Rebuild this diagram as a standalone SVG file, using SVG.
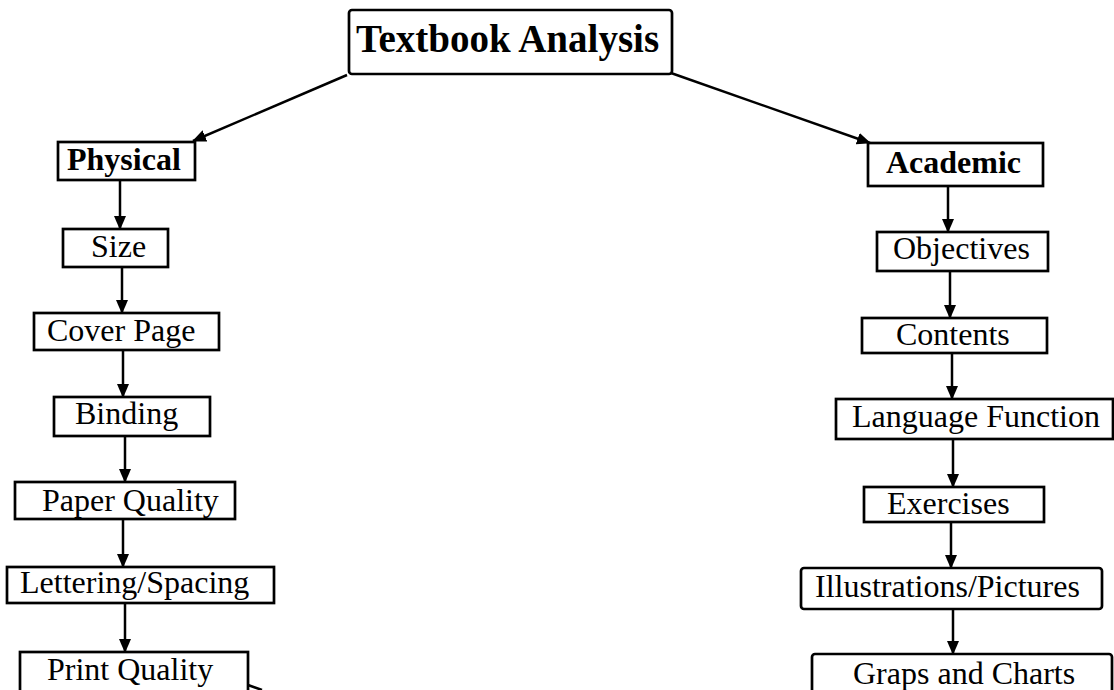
<svg xmlns="http://www.w3.org/2000/svg" width="1114" height="690" viewBox="0 0 1114 690">
<defs>
<marker id="ah" markerWidth="14" markerHeight="12" refX="13" refY="6" orient="auto" markerUnits="userSpaceOnUse">
<path d="M0,0 L14,6 L0,12 Z" fill="#000"/>
</marker>
<style>
.box{fill:#fff;stroke:#000;stroke-width:2.7}
.t{font-family:"Liberation Serif","Times New Roman",serif;font-size:32px;fill:#000}
.b{font-weight:bold}
.c{stroke:#000;stroke-width:2.5;fill:none}
.ca{stroke:#000;stroke-width:2.5;fill:none;marker-end:url(#ah)}
</style>
</defs>
<rect width="1114" height="690" fill="#fff"/>
<g id="connectors">
<line class="ca" x1="347" y1="75" x2="193" y2="141"/>
<line class="ca" x1="671" y1="73" x2="870" y2="143"/>
<line class="ca" x1="120" y1="180" x2="120" y2="229"/>
<line class="ca" x1="122" y1="267" x2="122" y2="313"/>
<line class="ca" x1="123" y1="350" x2="123" y2="397"/>
<line class="ca" x1="125" y1="436" x2="125" y2="482"/>
<line class="ca" x1="123" y1="519" x2="123" y2="567"/>
<line class="ca" x1="125" y1="603" x2="125" y2="652"/>
<line class="c" x1="248" y1="685" x2="262" y2="690"/>
<line class="ca" x1="948" y1="186" x2="948" y2="232"/>
<line class="ca" x1="950" y1="271" x2="950" y2="318"/>
<line class="ca" x1="952" y1="353" x2="952" y2="399"/>
<line class="ca" x1="953" y1="439" x2="953" y2="487"/>
<line class="ca" x1="951" y1="522" x2="951" y2="568"/>
<line class="ca" x1="953" y1="609" x2="953" y2="654"/>
</g>
<g id="textbook-analysis">
<rect class="box" x="349" y="10" width="323" height="64" rx="3"/>
<text class="t b" x="356" y="52" style="font-size:39px">Textbook Analysis</text>
</g>
<g id="physical">
<rect class="box" x="58" y="142" width="137" height="38"/>
<text class="t b" x="67" y="170">Physical</text>
</g>
<g id="size">
<rect class="box" x="63" y="229" width="105" height="38"/>
<text class="t" x="91" y="257">Size</text>
</g>
<g id="cover-page">
<rect class="box" x="34" y="313" width="185" height="37"/>
<text class="t" x="47" y="341">Cover Page</text>
</g>
<g id="binding">
<rect class="box" x="54" y="397" width="156" height="39"/>
<text class="t" x="75" y="424">Binding</text>
</g>
<g id="paper-quality">
<rect class="box" x="15" y="482" width="220" height="37"/>
<text class="t" x="42" y="511">Paper Quality</text>
</g>
<g id="lettering-spacing">
<rect class="box" x="7" y="567" width="267" height="36"/>
<text class="t" x="20" y="593">Lettering/Spacing</text>
</g>
<g id="print-quality">
<rect class="box" x="20" y="652" width="228" height="50"/>
<text class="t" x="47" y="680">Print Quality</text>
</g>
<g id="academic">
<rect class="box" x="868" y="143" width="175" height="43"/>
<text class="t b" x="886" y="173">Academic</text>
</g>
<g id="objectives">
<rect class="box" x="877" y="232" width="171" height="39"/>
<text class="t" x="893" y="259">Objectives</text>
</g>
<g id="contents">
<rect class="box" x="862" y="318" width="185" height="35"/>
<text class="t" x="896" y="345">Contents</text>
</g>
<g id="language-function">
<rect class="box" x="836" y="399" width="277" height="40"/>
<text class="t" x="852" y="427">Language Function</text>
</g>
<g id="exercises">
<rect class="box" x="864" y="487" width="180" height="35"/>
<text class="t" x="887" y="514">Exercises</text>
</g>
<g id="illustrations-pictures">
<rect class="box" x="801" y="568" width="301" height="41" rx="3"/>
<text class="t" x="815" y="597">Illustrations/Pictures</text>
</g>
<g id="graps-and-charts">
<rect class="box" x="812" y="654" width="300" height="50" rx="3"/>
<text class="t" x="853" y="684">Graps and Charts</text>
</g>
</svg>
